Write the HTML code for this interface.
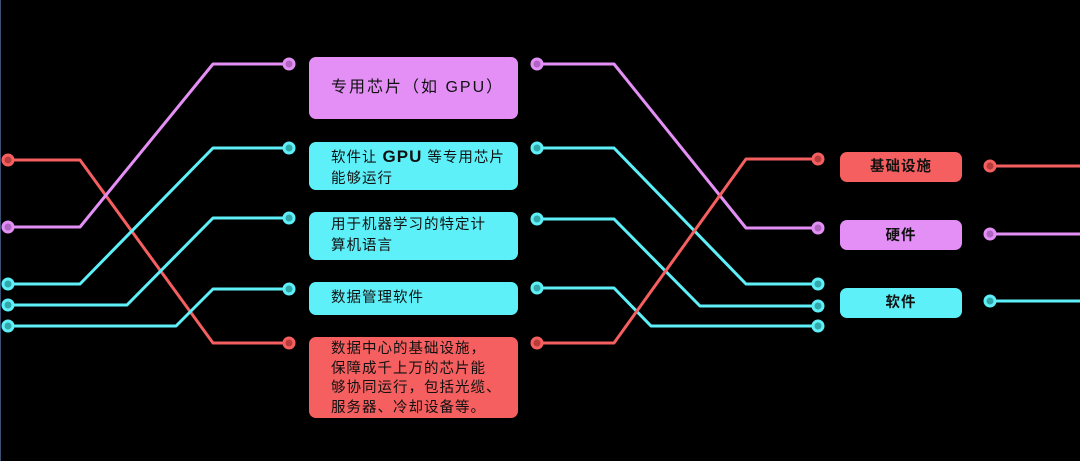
<!DOCTYPE html>
<html><head><meta charset="utf-8"><style>
body{margin:0;background:#000;width:1080px;height:461px;overflow:hidden;position:relative;font-family:"Liberation Sans","Noto Sans CJK SC",sans-serif}
.b{position:absolute;border-radius:7px;color:#111;font-size:14.5px;line-height:21px;box-sizing:border-box;letter-spacing:1px}
.p{background:#e38ff5}.c{background:#5ef0f8}.r{background:#f55f5f}
</style></head><body>
<svg width="1080" height="461" style="position:absolute;left:0;top:0">
<line x1="0.5" y1="0" x2="0.5" y2="461" stroke="#3a5070" stroke-width="1"/>
<g fill="none" stroke-width="3" stroke-linejoin="round">
<polyline stroke="#f55f5f" points="8,160 80,160 213,343 289,343"/>
<polyline stroke="#e38ff5" points="8,227 80,227 213,64 289,64"/>
<polyline stroke="#5ef0f8" points="8,284 80,284 213,148 289,148"/>
<polyline stroke="#5ef0f8" points="8,305 127,305 213,218 289,218"/>
<polyline stroke="#5ef0f8" points="8,326 176,326 213,289 289,289"/>
<polyline stroke="#e38ff5" points="537,64 614,64 746,228 818,228"/>
<polyline stroke="#5ef0f8" points="537,148 614,148 746,284 818,284"/>
<polyline stroke="#5ef0f8" points="537,219 614,219 700,306 818,306"/>
<polyline stroke="#5ef0f8" points="537,288 614,288 651,326 818,326"/>
<polyline stroke="#f55f5f" points="537,343 614,343 746,159 818,159"/>
<line stroke="#f55f5f" x1="990" y1="166" x2="1080" y2="166"/>
<line stroke="#e38ff5" x1="990" y1="234" x2="1080" y2="234"/>
<line stroke="#5ef0f8" x1="990" y1="301" x2="1080" y2="301"/>
</g>
<g stroke-width="3">
<g stroke="#f55f5f" fill="#b83c3c"><circle cx="8" cy="160" r="5"/><circle cx="289" cy="343" r="5"/><circle cx="537" cy="343" r="5"/><circle cx="818" cy="159" r="5"/><circle cx="990" cy="166" r="5"/></g>
<g stroke="#e38ff5" fill="#b065c0"><circle cx="8" cy="227" r="5"/><circle cx="289" cy="64" r="5"/><circle cx="537" cy="64" r="5"/><circle cx="818" cy="228" r="5"/><circle cx="990" cy="234" r="5"/></g>
<g stroke="#5ef0f8" fill="#33a8aa"><circle cx="8" cy="284" r="5"/><circle cx="8" cy="305" r="5"/><circle cx="8" cy="326" r="5"/><circle cx="289" cy="148" r="5"/><circle cx="289" cy="218" r="5"/><circle cx="289" cy="289" r="5"/><circle cx="537" cy="148" r="5"/><circle cx="537" cy="219" r="5"/><circle cx="537" cy="288" r="5"/><circle cx="818" cy="284" r="5"/><circle cx="818" cy="306" r="5"/><circle cx="818" cy="326" r="5"/><circle cx="990" cy="301" r="5"/></g>
</g>
</svg>
<div class="b p" style="left:309px;top:57px;width:209px;height:62px;padding:20px 0 0 22px;font-size:16px;letter-spacing:2px">专用芯片（如 GPU）</div>
<div class="b c" style="left:309px;top:142px;width:209px;height:48px;padding:4px 0 0 22px">软件让 <b style="font-size:17px">GPU</b> 等专用芯片<br>能够运行</div>
<div class="b c" style="left:309px;top:212px;width:209px;height:48px;padding:3px 0 0 22px">用于机器学习的特定计<br>算机语言</div>
<div class="b c" style="left:309px;top:282px;width:209px;height:33px;padding:6px 0 0 22px">数据管理软件</div>
<div class="b r" style="left:309px;top:337px;width:209px;height:81px;padding:0 0 0 22px;line-height:19.5px;padding-top:3px">数据中心的基础设施，<br>保障成千上万的芯片能<br>够协同运行，包括光缆、<br>服务器、冷却设备等。</div>
<div class="b r" style="left:840px;top:152px;width:122px;height:30px;text-align:center;line-height:30px;font-weight:bold">基础设施</div>
<div class="b p" style="left:840px;top:220px;width:122px;height:30px;text-align:center;line-height:32px;font-weight:bold">硬件</div>
<div class="b c" style="left:840px;top:288px;width:122px;height:30px;text-align:center;line-height:30px;font-weight:bold">软件</div>
</body></html>
